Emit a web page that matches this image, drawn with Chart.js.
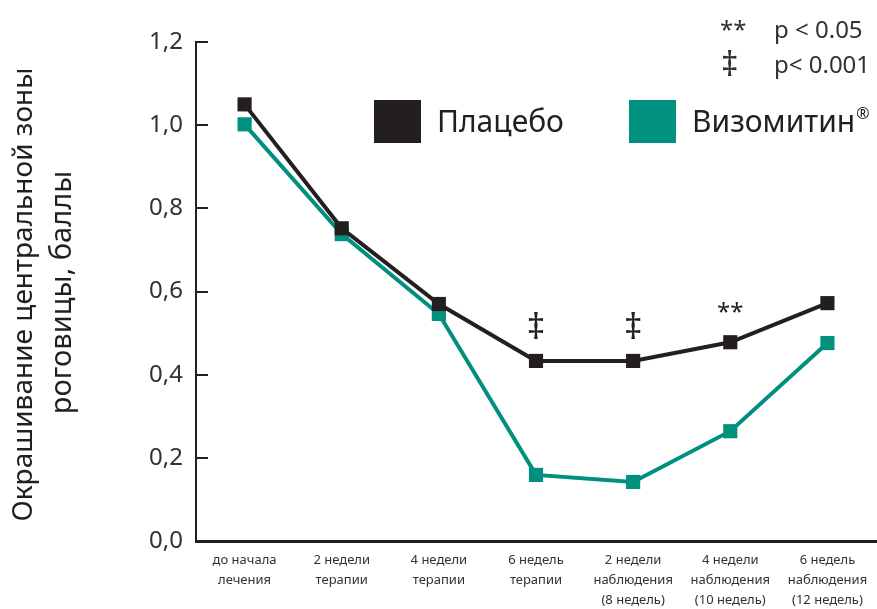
<!DOCTYPE html>
<html><head><meta charset="utf-8">
<script src="https://cdn.jsdelivr.net/npm/chart.js@4"></script>
<style>html,body{margin:0;padding:0;background:#fff}#wrap{width:877px;height:609px;position:relative}</style>
</head><body><div id="wrap"><canvas id="c" width="877" height="609"></canvas></div>
<script>
const categories = [
  ["до начала","лечения"],
  ["2 недели","терапии"],
  ["4 недели","терапии"],
  ["6 недель","терапии"],
  ["2 недели","наблюдения","(8 недель)"],
  ["4 недели","наблюдения","(10 недель)"],
  ["6 недель","наблюдения","(12 недель)"]
];
const placebo = [1.05, 0.752, 0.57, 0.433, 0.433, 0.478, 0.572];
const vizomitin = [1.002, 0.738, 0.546, 0.159, 0.142, 0.264, 0.476];
const seriesNames = ["Плацебо", "Визомитин"];
const significance = ["", "", "", "‡", "‡", "**", ""];
const yTicks = [0, 0.2, 0.4, 0.6, 0.8, 1.0, 1.2];
const yTitle = ["Окрашивание центральной зоны", "роговицы, баллы"];
const footnotes = [["**", "p < 0.05"], ["‡", "p< 0.001"]];

const BLACK = '#231f20', TEAL = '#00907e', TXT = '#333031';
const FONT = '"Noto Sans", "Open Sans", sans-serif';

const extras = {
  id: 'extras',
  afterDraw(chart) {
    const ctx = chart.ctx, y = chart.scales.y, x = chart.scales.x, ca = chart.chartArea;
    ctx.save();
    // inward tick marks
    ctx.strokeStyle = BLACK; ctx.lineWidth = 2;
    yTicks.forEach(v => {
      const py = Math.round(y.getPixelForValue(v));
      ctx.beginPath(); ctx.moveTo(ca.left, py); ctx.lineTo(ca.left + 12, py); ctx.stroke();
    });
    // y title
    ctx.fillStyle = BLACK;
    ctx.textAlign = 'center'; ctx.textBaseline = 'alphabetic';
    const cy = (ca.top + ca.bottom) / 2 + 3;
    [[32, 28], [71, 29]].forEach((p, i) => {
      ctx.font = p[1] + 'px ' + FONT;
      ctx.save(); ctx.translate(p[0], cy - (i ? 2 : 0)); ctx.rotate(-Math.PI / 2);
      ctx.fillText(yTitle[i], 0, 0); ctx.restore();
    });
    // significance marks
    ctx.fillStyle = BLACK;
    significance.forEach((s, i) => {
      if (!s) return;
      const px = x.getPixelForValue(i);
      const py = y.getPixelForValue(placebo[i]);
      if (s === '‡') { ctx.font = '36px ' + FONT; ctx.fillText(s, px, py - 22); }
      else { ctx.font = '24px ' + FONT; ctx.fillText(s, px, py - 22); }
    });
    // footnotes
    ctx.textAlign = 'left'; ctx.fillStyle = TXT;
    footnotes.forEach((f, i) => {
      const by = 38 + i * 35;
      ctx.font = (f[0] === '‡' ? '34px ' : '24px ') + FONT;
      ctx.fillText(f[0], f[0] === '‡' ? 721 : 720, f[0] === '‡' ? by + 3 : by);
      ctx.font = '24px ' + FONT;
      ctx.fillText(f[1], 774, by);
    });
    // legend
    const items = chart.data.datasets;
    const lx = [374, 629];
    items.forEach((d, i) => {
      ctx.fillStyle = d.borderColor;
      ctx.fillRect(lx[i], 100, 47, 43);
      ctx.fillStyle = BLACK; ctx.font = '30px ' + FONT;
      ctx.textBaseline = 'middle';
      ctx.fillText(d.label, lx[i] + 63, 123);
      if (i === 1) {
        const w = ctx.measureText(d.label).width;
        ctx.font = '16px ' + FONT;
        ctx.fillText('®', lx[i] + 63 + w + 1, 114);
      }
    });
    ctx.restore();
  }
};

new Chart(document.getElementById('c'), {
  type: 'line',
  data: {
    labels: categories,
    datasets: [
      { label: seriesNames[0], data: placebo, borderColor: BLACK, backgroundColor: BLACK,
        borderWidth: 4, pointStyle: 'rect', pointRadius: 10, pointHoverRadius: 10, pointBorderWidth: 0, tension: 0 },
      { label: seriesNames[1], data: vizomitin, borderColor: TEAL, backgroundColor: TEAL,
        borderWidth: 4, pointStyle: 'rect', pointRadius: 10, pointHoverRadius: 10, pointBorderWidth: 0, tension: 0 }
    ]
  },
  options: {
    responsive: false, animation: false, devicePixelRatio: 1,
    layout: { autoPadding: false, padding: { top: 42, right: 1, left: 0, bottom: 0 } },
    plugins: { legend: { display: false }, tooltip: { enabled: false } },
    scales: {
      x: {
        offset: true,
        grid: { display: false, drawTicks: false },
        border: { display: true, color: BLACK, width: 3 },
        ticks: { color: TXT, font: { family: FONT, size: 13, lineHeight: 1.55 }, padding: 9, maxRotation: 0, autoSkip: false },
        afterFit(s) { s.height = 68; s.paddingLeft = 0; s.paddingRight = 0; }
      },
      y: {
        min: 0, max: 1.2,
        afterBuildTicks(s) { s.ticks = yTicks.map(v => ({ value: v })); },
        grid: { display: false, drawTicks: false },
        border: { display: true, color: BLACK, width: 2 },
        ticks: { color: TXT, font: { family: FONT, size: 24 }, padding: 13,
          callback: v => Number(v).toFixed(1).replace('.', ',') },
        afterFit(s) { s.width = 196; s.paddingTop = 0; s.paddingBottom = 0; }
      }
    }
  },
  plugins: [extras]
});
</script></body></html>
